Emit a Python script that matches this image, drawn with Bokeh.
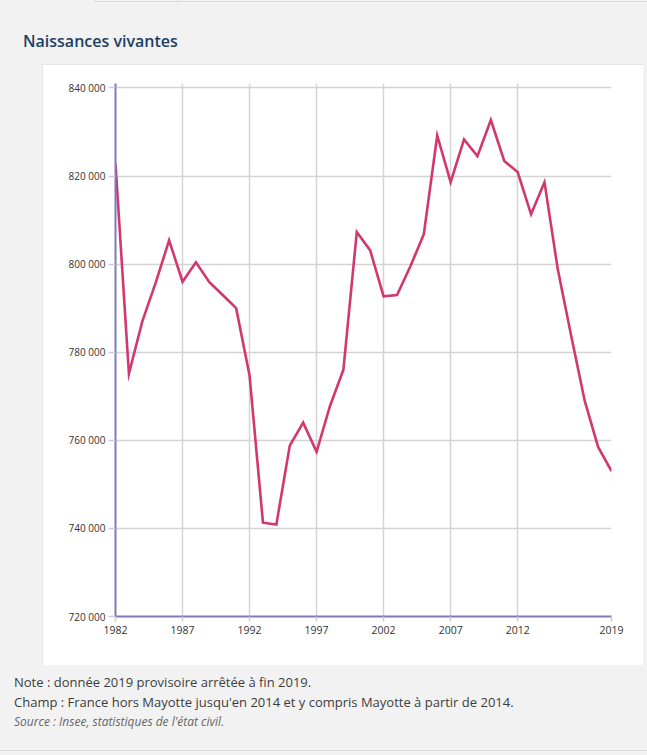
from bokeh.plotting import figure
from bokeh.models import Div, FixedTicker, CustomJSTickFormatter, Range1d
from bokeh.layouts import column
from bokeh.embed import file_html
from bokeh.resources import INLINE

# ---- data ----
title_text = "Naissances vivantes"
years = list(range(1982, 2020))
births = [822800, 775100, 787000, 795800, 805400, 796000, 800400, 795900, 793000, 790000,
          774700, 741300, 740900, 758800, 764000, 757400, 767800, 776000, 807300, 803100,
          792700, 793000, 799500, 806800, 829200, 818600, 828300, 824500, 832700, 823400,
          820900, 811300, 818600, 798700, 783600, 769000, 758500, 753000]
x_ticks = [1982, 1987, 1992, 1997, 2002, 2007, 2012, 2019]
y_ticks = [720000, 740000, 760000, 780000, 800000, 820000, 840000]
notes = ["Note : donnée 2019 provisoire arrêtée à fin 2019.",
         "Champ : France hors Mayotte jusqu'en 2014 et y compris Mayotte à partir de 2014."]
source = "Source : Insee, statistiques de l'état civil."

BG = "#f2f2f2"
FONT = "Open Sans"

title = Div(
    text=('<div style="margin-left:94px;width:553px;height:2px;border-left:1px solid #dcdcdc;'
          'border-bottom:1px solid #dcdcdc;"><div style="margin-left:82px;height:2px;'
          'border-left:1px solid #dcdcdc;"></div></div>'
          f'<div style="padding:28px 0 0 23px;font-family:\'{FONT}\';font-size:16px;'
          f'font-weight:600;color:#1d3f66;line-height:22px;white-space:nowrap;">{title_text}</div>'),
    width=647, height=64, margin=(0, 0, 0, 0),
)

p = figure(
    width=601, height=601,
    x_range=Range1d(1982, 2019), y_range=Range1d(720000, 841000),
    output_backend="svg", toolbar_location=None,
    min_border_left=73, min_border_right=32, min_border_top=19, min_border_bottom=49,
    background_fill_color="white", border_fill_color="white", outline_line_color=None,
    margin=(0, 0, 0, 42),
    styles={"outline": "1px solid #dedede", "outline-offset": "-1px"},
)

p.xgrid.grid_line_color = "#d4d4d4"
p.ygrid.grid_line_color = "#d4d4d4"
p.xgrid.grid_line_width = 1.5
p.ygrid.grid_line_width = 1.5

p.xaxis.ticker = FixedTicker(ticks=x_ticks)
p.yaxis.ticker = FixedTicker(ticks=y_ticks)
p.yaxis.formatter = CustomJSTickFormatter(
    code=r"return Math.round(tick).toString().replace(/\B(?=(\d{3})+(?!\d))/g, ' ');")

for ax in (p.xaxis[0], p.yaxis[0]):
    ax.axis_line_color = "#7b7bb8"
    ax.axis_line_width = 2
    ax.major_tick_line_color = "#cccccc"
    ax.major_tick_line_width = 1.5
    ax.major_tick_in = 0
    ax.minor_tick_line_color = None
    ax.major_label_text_font = FONT
    ax.major_label_text_color = "#333333"
p.xaxis.major_tick_out = 5
p.yaxis.major_tick_out = 7
p.xaxis.major_label_text_font_size = "10.5px"
p.yaxis.major_label_text_font_size = "10px"
p.xaxis.major_label_standoff = 4
p.yaxis.major_label_standoff = 3

p.line(years, births, line_color="#d3376f", line_width=2.6, line_join="miter")

foot_html = (
    '<div style="width:647px;height:86px;box-sizing:border-box;border-bottom:1px solid #dcdcdc;">'
    f'<div style="padding:7px 0 0 14px;font-family:\'{FONT}\';line-height:20px;white-space:nowrap;">'
    f'<div style="font-size:13px;color:#3d3d3d;">{notes[0]}</div>'
    f'<div style="font-size:13px;color:#3d3d3d;">{notes[1]}</div>'
    f'<div style="font-size:12px;color:#666666;font-style:italic;">{source}</div>'
    '</div></div>'
)
foot = Div(text=foot_html, width=647, height=90, margin=(0, 0, 0, 0))

layout = column(title, p, foot, spacing=0, width=647, height=755,
                styles={"background-color": BG})

open("out.html", "w").write(file_html(layout, INLINE))
